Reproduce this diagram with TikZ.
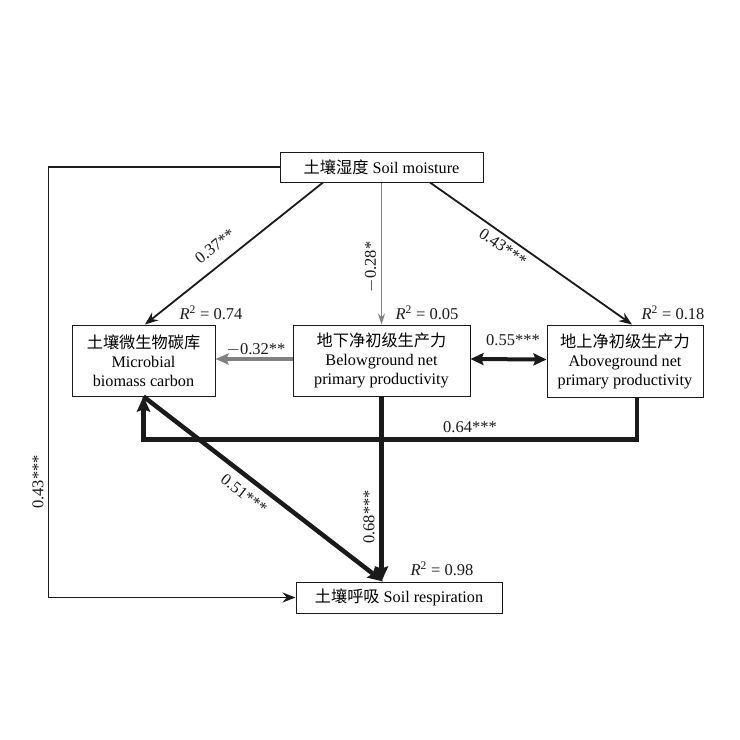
\documentclass[tikz,border=0pt]{standalone}
\usepackage{fontspec}
\setmainfont{Liberation Serif}
\newfontfamily\cjk{Noto Sans CJK SC}
\usetikzlibrary{arrows.meta}
\definecolor{ink}{HTML}{1A1A1A}
\definecolor{gline}{HTML}{808080}
\tikzset{
  box/.style={draw=ink, line width=1pt, fill=white, align=center, inner sep=0pt, font=\fontsize{16.2}{19}\selectfont},
  lab/.style={font=\fontsize{16.5}{18}\selectfont, text=ink, inner sep=1pt},
  thinarr/.style={draw=ink, line width=1.8pt, -{Stealth[length=13pt,width=10pt]}},
  thickarr/.style={draw=ink, line width=4.5pt, -{Stealth[length=15pt,width=13pt,inset=2pt]}},
}
\newcommand{\rsq}[1]{\textit{R}\textsuperscript{2} = #1}
\newcommand{\zh}[1]{{\cjk #1}}
\begin{document}
\begin{tikzpicture}[x=1pt,y=-1pt]
\useasboundingbox[fill=white] (0,0) rectangle (740,740);

\node[box, minimum width=203pt, minimum height=30pt] (sm) at (381.5,167) {\zh{土壤湿度} Soil moisture};
\node[box, minimum width=143pt, minimum height=71pt] (mbc) at (143.5,360.5) {\zh{土壤微生物碳库}\\Microbial\\biomass carbon};
\node[box, minimum width=177pt, minimum height=71pt] (bnpp) at (381.5,360.5) {\zh{地下净初级生产力}\\Belowground net\\primary productivity};
\node[box, minimum width=156pt, minimum height=72pt] (anpp) at (625,361) {\zh{地上净初级生产力}\\Aboveground net\\primary productivity};
\node[box, minimum width=206pt, minimum height=31pt] (sr) at (399,597.5) {\zh{土壤呼吸} Soil respiration};

% soil moisture paths
\draw[thinarr] ([xshift=-58.5pt]sm.south) -- ([xshift=1.5pt]mbc.north);
\draw[draw=gline, line width=1pt, -{Stealth[length=11pt,width=7pt]}] (sm.south) -- (bnpp.north);
\draw[thinarr] ([xshift=48.5pt]sm.south) -- ([xshift=7pt]anpp.north);
\draw[thinarr] (sm.west) -- ++(-231,0) |- (sr.west);

% BNPP -> MBC (gray) and BNPP <-> ANPP
\draw[draw=gline, line width=4pt, -{Stealth[length=13pt,width=11pt,inset=2pt]}] ([yshift=1.5pt]bnpp.west) -- ([yshift=1.5pt]mbc.east);
\draw[draw=ink, line width=4pt, {Stealth[length=13pt,width=12pt,inset=2pt]}-{Stealth[length=13pt,width=12pt,inset=2pt]}] ([yshift=1.5pt]bnpp.east) -- ([yshift=1.5pt]anpp.west);

% ANPP -> MBC
\draw[thickarr] ([xshift=12pt]anpp.south) -- ++(0,42) -| (mbc.south);
% BNPP -> SR
\draw[thickarr, line width=5.5pt] (bnpp.south) -- (bnpp.south |- sr.north);
% MBC -> SR
\draw[thickarr] (mbc.south) -- ([xshift=-16pt]sr.north);

% labels
\node[lab, rotate=38.2] (l1) at (215,246) {0.37**};
\node[lab, rotate=90] (l2) at (371,267) {$-$0.28*};
\node[lab, rotate=-34.9] (l3) at (503,247) {0.43***};
\node[lab] (l4) at (256,350) {$-$0.32**};
\node[lab] (l5) at (513,340) {0.55***};
\node[lab] (l6) at (470,427) {0.64***};
\node[lab, rotate=90] (l7) at (369,517) {0.68***};
\node[lab, rotate=-38] (l8) at (244,494) {0.51***};
\node[lab, rotate=90] (l9) at (38,482) {0.43***};

\node[lab] (r1) at (211,313) {\rsq{0.74}};
\node[lab] (r2) at (427,313) {\rsq{0.05}};
\node[lab] (r3) at (673,313) {\rsq{0.18}};
\node[lab] (r4) at (442,569) {\rsq{0.98}};
\end{tikzpicture}
\end{document}
